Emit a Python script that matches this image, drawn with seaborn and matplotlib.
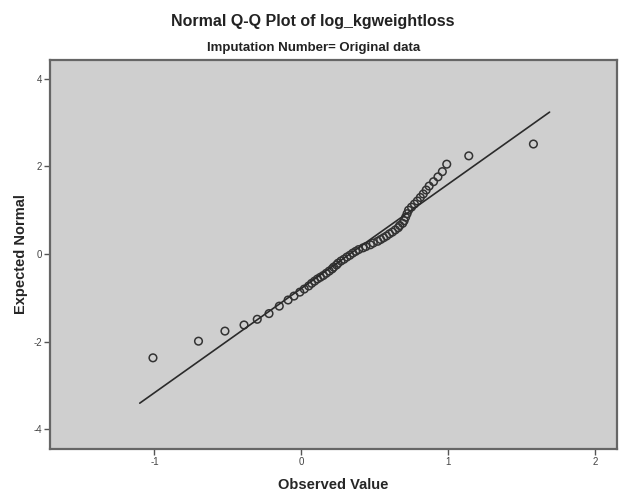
import numpy as np
import pandas as pd
import matplotlib
matplotlib.use("Agg")
import matplotlib.pyplot as plt
import seaborn as sns

observed = [-1.01, -0.70, -0.52, -0.39, -0.30, -0.22, -0.15, -0.09, -0.05, -0.01,
            0.02, 0.05, 0.07, 0.09, 0.11, 0.13, 0.15, 0.17, 0.19, 0.21,
            0.22, 0.24, 0.25, 0.27, 0.29, 0.31, 0.33, 0.35, 0.37, 0.39,
            0.42, 0.44, 0.47, 0.49, 0.52, 0.54, 0.56, 0.58, 0.60, 0.62,
            0.64, 0.66, 0.67, 0.69, 0.70, 0.71, 0.72, 0.73, 0.75, 0.77,
            0.79, 0.81, 0.83, 0.85, 0.87, 0.90, 0.93, 0.96, 0.99, 1.14, 1.58]
expected = [-2.37, -1.99, -1.76, -1.62, -1.49, -1.36, -1.19, -1.05, -0.96, -0.87,
            -0.80, -0.73, -0.67, -0.62, -0.57, -0.53, -0.49, -0.44, -0.39, -0.34,
            -0.30, -0.25, -0.21, -0.16, -0.12, -0.07, -0.03, 0.02, 0.06, 0.10,
            0.14, 0.17, 0.21, 0.25, 0.29, 0.33, 0.37, 0.41, 0.46, 0.50,
            0.55, 0.60, 0.65, 0.70, 0.76, 0.84, 0.92, 1.00, 1.07, 1.14,
            1.21, 1.29, 1.37, 1.46, 1.55, 1.65, 1.76, 1.88, 2.05, 2.24, 2.51]

# reference line: normal with estimated mean / sd, drawn over this observed range
fit_mean = 0.33
fit_sd = 0.42
line_range = [-1.10, 1.69]

df = pd.DataFrame({"observed": observed, "expected": expected})
ref = pd.DataFrame({"x": line_range})
ref["y"] = (ref["x"] - fit_mean) / fit_sd

sns.set_style("white")
plt.rcParams["font.family"] = ["Liberation Sans", "DejaVu Sans"]
plt.rcParams["axes.unicode_minus"] = False

fig = plt.figure(figsize=(6.19, 4.95), dpi=100)
ax = fig.add_axes([0.081, 0.093, 0.916, 0.786])
ax.set_facecolor("#cfcfcf")

sns.lineplot(data=ref, x="x", y="y", color="#2b2b2b", linewidth=1.2, ax=ax)
sns.scatterplot(data=df, x="observed", y="expected", ax=ax, s=30,
                facecolor="none", edgecolor="#333333", linewidth=1.1)

ax.set_xlim(-1.71, 2.15)
ax.set_ylim(-4.45, 4.43)
ax.set_xticks([-1, 0, 1, 2])
ax.set_yticks([-4, -2, 0, 2, 4])
ax.tick_params(axis="both", direction="out", length=4, width=1, color="#555555",
               labelsize=7, labelcolor="#444444", pad=2)
ax.tick_params(bottom=True, left=True)

for side in ["top", "right", "left", "bottom"]:
    ax.spines[side].set_color("#666666")
    ax.spines[side].set_linewidth(1.6)

ax.set_xlabel("Observed Value", fontsize=10.5, fontweight="bold", labelpad=8)
ax.set_ylabel("Expected Normal", fontsize=10.5, fontweight="bold", labelpad=4)

fig.text(0.506, 0.956, "Normal Q-Q Plot of log_kgweightloss", ha="center", va="center",
         fontsize=11.5, fontweight="bold", color="#222222")
fig.text(0.506, 0.903, "Imputation Number= Original data", ha="center", va="center",
         fontsize=9.5, fontweight="bold", color="#222222")

fig.savefig("out.png", dpi=100)
